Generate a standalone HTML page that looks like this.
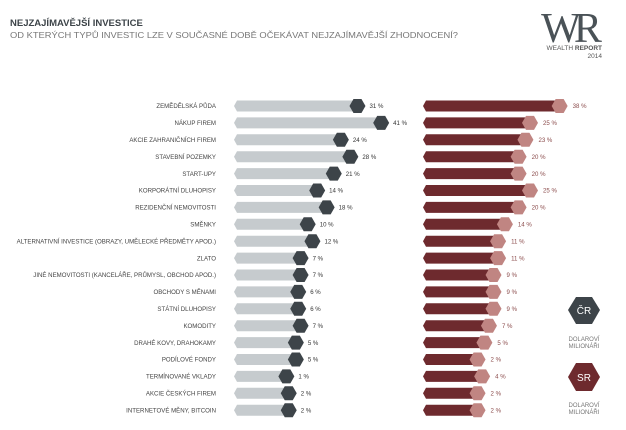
<!DOCTYPE html>
<html><head><meta charset="utf-8"><style>
html,body{margin:0;padding:0;background:#fff;}
svg{display:block;font-family:"Liberation Sans",sans-serif;}
</style></head><body>
<svg id="s" width="626" height="430" viewBox="0 0 626 430" xmlns="http://www.w3.org/2000/svg">
<text x="10" y="26" font-size="9.5" font-weight="bold" fill="#3d4449">NEJZAJÍMAVĚJŠÍ INVESTICE</text>
<text x="10" y="38" font-size="8.2" fill="#777" textLength="448" lengthAdjust="spacingAndGlyphs">OD KTERÝCH TYPŮ INVESTIC LZE V SOUČASNÉ DOBĚ OČEKÁVAT NEJZAJÍMAVĚJŠÍ ZHODNOCENÍ?</text>
<text x="568" y="42" font-size="42" font-family="Liberation Serif,serif" fill="#4a5257" text-anchor="middle" letter-spacing="-7">WR</text>
<text x="602" y="50" font-size="6.5" fill="#555" text-anchor="end">WEALTH <tspan font-weight="bold">REPORT</tspan></text>
<text x="602" y="58" font-size="6.5" fill="#555" text-anchor="end">2014</text>
<g id="rows"></g>
<polygon points="576,297 592,297 600,310 592,324 576,324 568,310" fill="#3d4449"/>
<text x="584" y="314" font-size="10" fill="#fff" text-anchor="middle">ČR</text>
<text x="584" y="341" font-size="6" fill="#777" text-anchor="middle">DOLAROVÍ</text>
<text x="584" y="348" font-size="6" fill="#777" text-anchor="middle">MILIONÁŘI</text>
<polygon points="576,363 592,363 600,377 592,391 576,391 568,377" fill="#6e2a2e"/>
<text x="584" y="381" font-size="10" fill="#fff" text-anchor="middle">SR</text>
<text x="584" y="407" font-size="6" fill="#777" text-anchor="middle">DOLAROVÍ</text>
<text x="584" y="414" font-size="6" fill="#777" text-anchor="middle">MILIONÁŘI</text>
</svg>
<script>
var L=["ZEMĚDĚLSKÁ PŮDA","NÁKUP FIREM","AKCIE ZAHRANIČNÍCH FIREM","STAVEBNÍ POZEMKY","START-UPY","KORPORÁTNÍ DLUHOPISY","REZIDENČNÍ NEMOVITOSTI","SMĚNKY","ALTERNATIVNÍ INVESTICE (OBRAZY, UMĚLECKÉ PŘEDMĚTY APOD.)","ZLATO","JINÉ NEMOVITOSTI (KANCELÁŘE, PRŮMYSL, OBCHOD APOD.)","OBCHODY S MĚNAMI","STÁTNÍ DLUHOPISY","KOMODITY","DRAHÉ KOVY, DRAHOKAMY","PODÍLOVÉ FONDY","TERMÍNOVANÉ VKLADY","AKCIE ČESKÝCH FIREM","INTERNETOVÉ MĚNY, BITCOIN"];
var A=[31,41,24,28,21,14,18,10,12,7,7,6,6,7,5,5,1,2,2];
var B=[38,25,23,20,20,25,20,14,11,11,9,9,9,7,5,2,4,2,2];
var h="";
function hex(cx,cy,c){return '<polygon points="'+(cx-4)+','+(cy-7)+' '+(cx+4)+','+(cy-7)+' '+(cx+8)+','+cy+' '+(cx+4)+','+(cy+7)+' '+(cx-4)+','+(cy+7)+' '+(cx-8)+','+cy+'" fill="'+c+'"/>';}
function bar(x0,x1,cy,c){return '<polygon points="'+(x0+3)+','+(cy-5.5)+' '+x1+','+(cy-5.5)+' '+x1+','+(cy+5.5)+' '+(x0+3)+','+(cy+5.5)+' '+x0+','+cy+'" fill="'+c+'"/>';}
for(var i=0;i<19;i++){
 var y=106+i*16.9;
 h+='<text x="216" y="'+(y+2.2)+'" font-size="6.1" fill="#444" text-anchor="end">'+L[i]+'</text>';
 var a=284+2.37*A[i];
 h+=bar(234,a,y,"#c6cbce")+hex(a,y,"#3d4449");
 h+='<text x="'+(a+12)+'" y="'+(y+2.2)+'" font-size="6.1" fill="#333">'+A[i]+' %</text>';
 var b=473+2.28*B[i];
 h+=bar(423,b,y,"#6e2a2e")+hex(b,y,"#c08582");
 h+='<text x="'+(b+13)+'" y="'+(y+2.2)+'" font-size="6.1" fill="#8a4a4a">'+B[i]+' %</text>';
}
document.getElementById("rows").innerHTML=h;
</script>
</body></html>
